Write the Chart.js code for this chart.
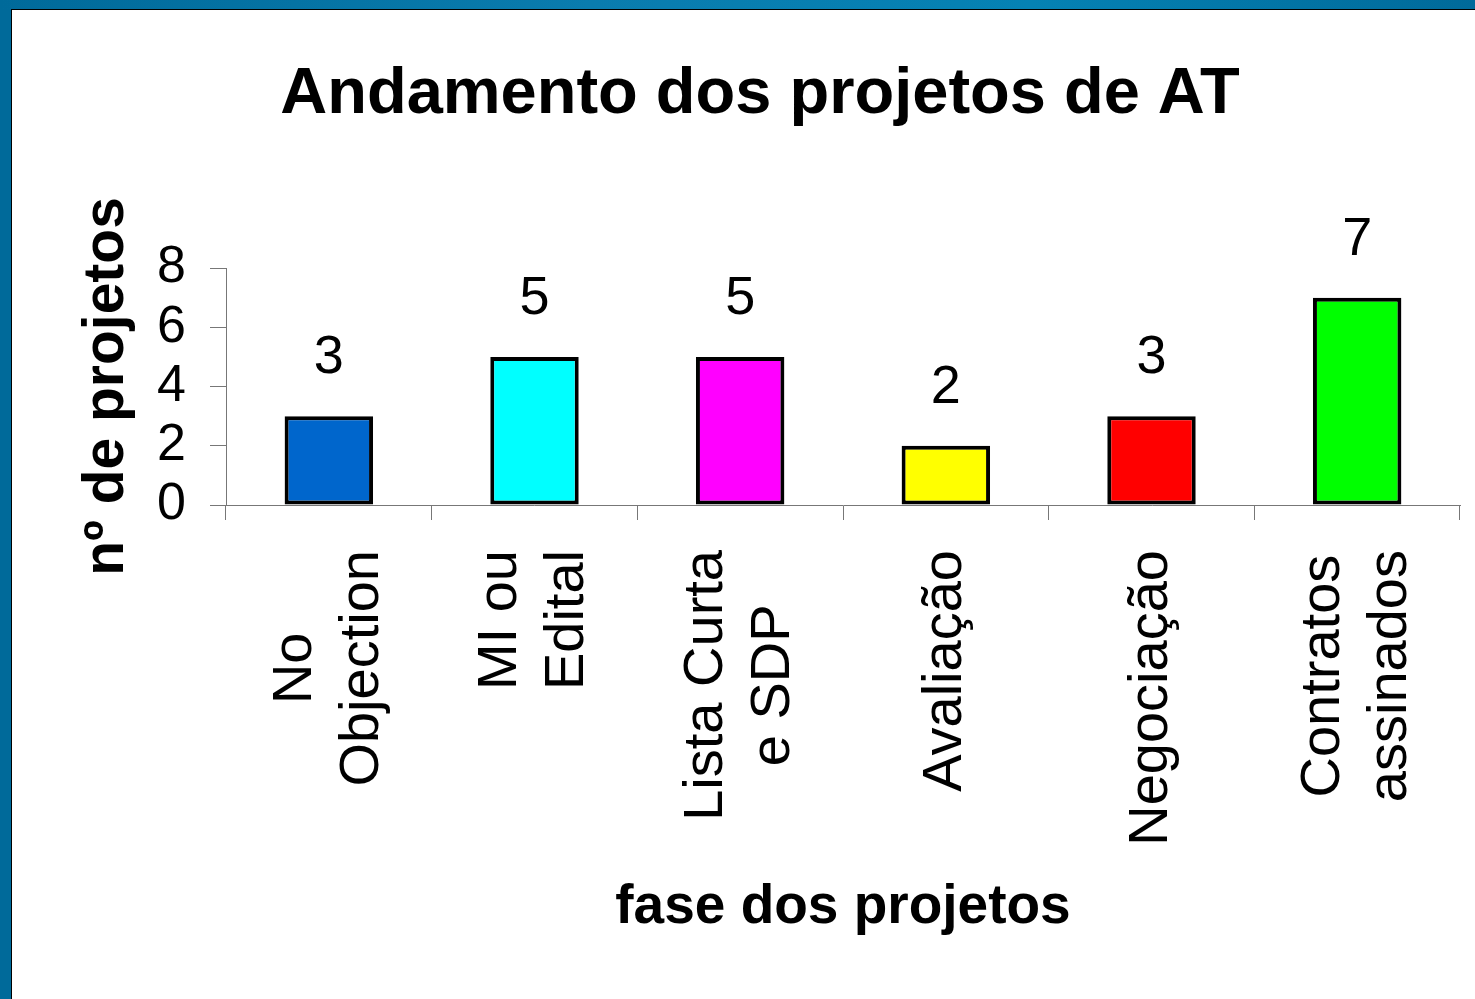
<!DOCTYPE html>
<html>
<head>
<meta charset="utf-8">
<script src="https://cdn.jsdelivr.net/npm/chart.js@4"></script>
<style>
  html, body { margin: 0; padding: 0; }
  body { width: 1475px; height: 999px; background: #006a9a; position: relative; overflow: hidden; }
  .topband { position: absolute; left: 0; top: 0; width: 1475px; height: 10px;
    background: linear-gradient(90deg, #006a9a 0%, #0a7cae 40%, #0582b4 70%, #006a9a 100%); }
  .panel { position: absolute; left: 11px; top: 9px; right: 0; bottom: 0; background: #fff;
    border-left: 1px solid #000; border-top: 1px solid #000; }
  .chart-box { position: absolute; left: 0; top: 0; width: 1475px; height: 999px; }
</style>
</head>
<body>
<div class="topband"></div>
<div class="panel"></div>
<div class="chart-box"><canvas id="projetos_chart"></canvas></div>
<script>
// data
const categories = [['No', 'Objection'], ['MI ou', 'Edital'], ['Lista Curta', 'e SDP'], ['Avaliação'], ['Negociação'], ['Contratos', 'assinados']]
const projectCounts = [3, 5, 5, 2, 3, 7]
const barColors = ['#0066cc', '#00ffff', '#ff00ff', '#ffff00', '#ff0000', '#00ff00']
const yMin = 0
const yMax = 8
const yStep = 2

Chart.defaults.font.family = "'Liberation Sans', Arial, sans-serif"
Chart.defaults.color = '#000'

// value printed above every bar
const valueLabels = {
    id: 'valueLabels',
    afterDatasetsDraw(chart) {
        const ctx = chart.ctx
        const meta = chart.getDatasetMeta(0)
        ctx.save()
        ctx.font = "54px 'Liberation Sans', Arial, sans-serif"
        ctx.fillStyle = '#000'
        ctx.textAlign = 'center'
        ctx.textBaseline = 'alphabetic'
        meta.data.forEach((bar, i) => {
            ctx.fillText(String(projectCounts[i]), bar.x, bar.y - 43)
        })
        ctx.restore()
    }
}

// rotated category names, lines centred on each other like the original
const categoryLabels = {
    id: 'categoryLabels',
    afterDraw(chart) {
        const ctx = chart.ctx
        const xScale = chart.scales.x
        const lineH = 67
        ctx.save()
        ctx.font = "56px 'Liberation Sans', Arial, sans-serif"
        ctx.fillStyle = '#000'
        ctx.textAlign = 'center'
        ctx.textBaseline = 'middle'
        categories.forEach((lines, i) => {
            const x = xScale.getPixelForTick(i)
            const maxW = Math.max(...lines.map(l => ctx.measureText(l).width))
            const cy = xScale.top + 45 + maxW / 2
            ctx.save()
            ctx.translate(x, cy)
            ctx.rotate(-Math.PI / 2)
            lines.forEach((line, k) => {
                ctx.fillText(line, 0, (k - (lines.length - 1) / 2) * lineH)
            })
            ctx.restore()
        })
        ctx.restore()
    }
}

const ctx = document.getElementById('projetos_chart')

const projetosChart = new Chart(ctx, {
    type: 'bar',
    data: {
        labels: categories,
        datasets: [{
            label: 'nº de projetos',
            data: projectCounts,
            backgroundColor: barColors,
            borderColor: '#000',
            borderWidth: 4,
            borderSkipped: false,
            barPercentage: 0.43,
            categoryPercentage: 1
        }]
    },
    options: {
        responsive: true,
        maintainAspectRatio: false,
        animation: false,
        layout: {
            padding: { left: 60, right: 15, top: 10, bottom: 58 }
        },
        plugins: {
            legend: { display: false },
            tooltip: { enabled: false },
            title: {
                display: true,
                text: 'Andamento dos projetos de AT',
                color: '#000',
                font: { size: 65, weight: 'bold' },
                padding: { top: 46, bottom: 134 }
            }
        },
        scales: {
            x: {
                grid: {
                    drawOnChartArea: false,
                    offset: true,
                    color: '#777',
                    tickLength: 15
                },
                border: { color: '#777', width: 1 },
                ticks: {
                    autoSkip: false,
                    minRotation: 90,
                    maxRotation: 90,
                    color: 'rgba(0,0,0,0)',
                    font: { size: 56 }
                },
                title: {
                    display: true,
                    text: 'fase dos projetos',
                    color: '#000',
                    font: { size: 55, weight: 'bold' },
                    padding: { top: 0, bottom: 0 }
                },
                afterFit(scale) {
                    scale.height = 436
                    scale.paddingLeft = 0
                    scale.paddingRight = 0
                }
            },
            y: {
                min: yMin,
                max: yMax,
                grid: {
                    drawOnChartArea: false,
                    color: '#777',
                    tickLength: 16
                },
                border: { color: '#777', width: 1 },
                ticks: {
                    stepSize: yStep,
                    autoSkip: false,
                    padding: 24,
                    color: '#000',
                    font: { size: 52 }
                },
                title: {
                    display: true,
                    text: 'nº de projetos',
                    color: '#000',
                    font: { size: 57, weight: 'bold' },
                    padding: { top: 13, bottom: 0 }
                },
                afterFit(scale) {
                    scale.width = 166
                }
            }
        }
    },
    plugins: [valueLabels, categoryLabels]
})
</script>
</body>
</html>
